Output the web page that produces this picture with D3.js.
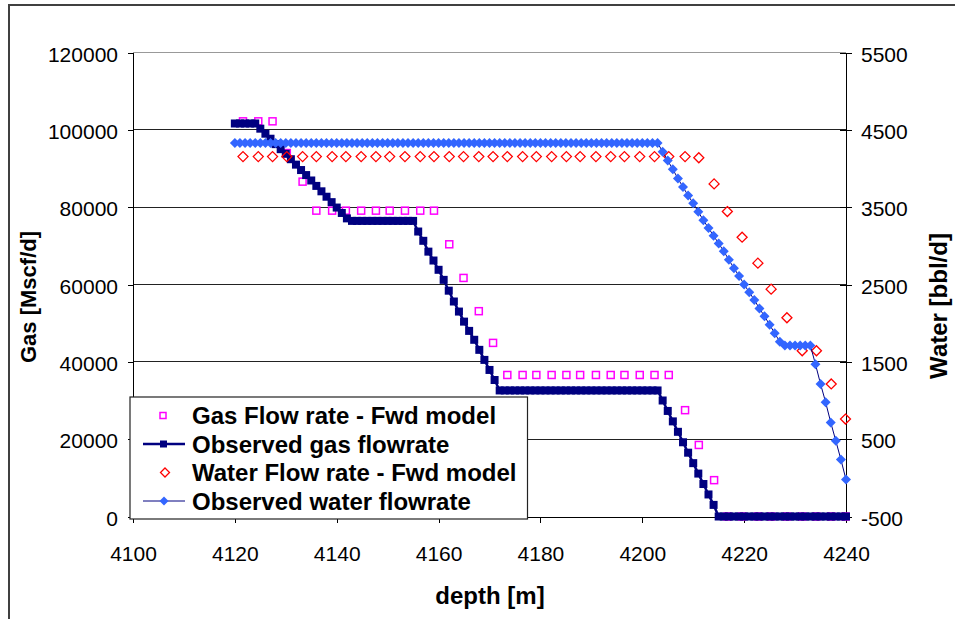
<!DOCTYPE html>
<html>
<head>
<meta charset="utf-8">
<script src="https://cdn.jsdelivr.net/npm/d3@7"></script>
<style>
    body { margin: 0; background: #fff; }
    svg { display: block; font-family: "Liberation Sans", Arial, sans-serif; }
</style>
</head>
<body>
<div id="chart"></div>
<script>
// axis ticks
const depthTicks = [4100, 4120, 4140, 4160, 4180, 4200, 4220, 4240]
const gasTicks = [0, 20000, 40000, 60000, 80000, 100000, 120000]
const waterTicks = [-500, 500, 1500, 2500, 3500, 4500, 5500]

// observed data, 1 m spacing
const obsDepth = [
    4120, 4121, 4122, 4123, 4124, 4125, 4126, 4127, 4128, 4129,
    4130, 4131, 4132, 4133, 4134, 4135, 4136, 4137, 4138, 4139,
    4140, 4141, 4142, 4143, 4144, 4145, 4146, 4147, 4148, 4149,
    4150, 4151, 4152, 4153, 4154, 4155, 4156, 4157, 4158, 4159,
    4160, 4161, 4162, 4163, 4164, 4165, 4166, 4167, 4168, 4169,
    4170, 4171, 4172, 4173, 4174, 4175, 4176, 4177, 4178, 4179,
    4180, 4181, 4182, 4183, 4184, 4185, 4186, 4187, 4188, 4189,
    4190, 4191, 4192, 4193, 4194, 4195, 4196, 4197, 4198, 4199,
    4200, 4201, 4202, 4203, 4204, 4205, 4206, 4207, 4208, 4209,
    4210, 4211, 4212, 4213, 4214, 4215, 4216, 4217, 4218, 4219,
    4220, 4221, 4222, 4223, 4224, 4225, 4226, 4227, 4228, 4229,
    4230, 4231, 4232, 4233, 4234, 4235, 4236, 4237, 4238, 4239,
    4240
]
const obsGas = [
    101640, 101640, 101640, 101640, 101640, 100300, 99000, 97700, 96300, 95000,
    93800, 92400, 91000, 89600, 88300, 86900, 85500, 84100, 82700, 81300,
    79900, 78500, 77100, 76450, 76450, 76450, 76450, 76450, 76450, 76450,
    76450, 76450, 76450, 76450, 76450, 76450, 73700, 71300, 68500, 66200,
    63800, 61200, 58400, 55600, 53000, 50400, 48000, 45700, 43100, 40500,
    37900, 35300, 32600, 32600, 32600, 32600, 32600, 32600, 32600, 32600,
    32600, 32600, 32600, 32600, 32600, 32600, 32600, 32600, 32600, 32600,
    32600, 32600, 32600, 32600, 32600, 32600, 32600, 32600, 32600, 32600,
    32600, 32600, 32600, 32600, 30000, 27300, 24600, 21900, 19200, 16500,
    13800, 11100, 8400, 5700, 3000, 0, 0, 0, 0, 0,
    0, 0, 0, 0, 0, 0, 0, 0, 0, 0,
    0, 0, 0, 0, 0, 0, 0, 0, 0, 0,
    0
]
const obsWater = [
    4330, 4330, 4330, 4330, 4330, 4330, 4330, 4330, 4330, 4330,
    4330, 4330, 4330, 4330, 4330, 4330, 4330, 4330, 4330, 4330,
    4330, 4330, 4330, 4330, 4330, 4330, 4330, 4330, 4330, 4330,
    4330, 4330, 4330, 4330, 4330, 4330, 4330, 4330, 4330, 4330,
    4330, 4330, 4330, 4330, 4330, 4330, 4330, 4330, 4330, 4330,
    4330, 4330, 4330, 4330, 4330, 4330, 4330, 4330, 4330, 4330,
    4330, 4330, 4330, 4330, 4330, 4330, 4330, 4330, 4330, 4330,
    4330, 4330, 4330, 4330, 4330, 4330, 4330, 4330, 4330, 4330,
    4330, 4330, 4330, 4330, 4218, 4102, 3990, 3870, 3760, 3650,
    3550, 3440, 3330, 3230, 3130, 3030, 2930, 2820, 2710, 2610,
    2500, 2400, 2300, 2190, 2090, 1980, 1870, 1760, 1712, 1712,
    1712, 1712, 1712, 1712, 1470, 1214, 977, 717, 478, 236,
    -23
]

// forward model
const modelDepth = [
    4121.6, 4124.6, 4127.4, 4130.2, 4133.3, 4136.0, 4139.1, 4141.8, 4144.8, 4147.7,
    4150.4, 4153.4, 4156.4, 4159.1, 4162.1, 4164.9, 4167.9, 4170.7, 4173.5, 4176.5,
    4179.2, 4182.2, 4185.1, 4187.8, 4190.9, 4193.8, 4196.5, 4199.5, 4202.4, 4205.2,
    4208.4, 4211.1, 4214.1, 4216.7, 4219.6, 4222.7, 4225.3, 4228.4, 4231.4, 4234.2,
    4237.1, 4239.9
]
const modelGas = [
    102200, 102200, 102200, 94000, 86600, 79100, 79100, 79100, 79100, 79100,
    79100, 79100, 79100, 79100, 70400, 61700, 53100, 44900, 36600, 36600,
    36600, 36600, 36600, 36600, 36600, 36600, 36600, 36600, 36600, 36600,
    27500, 18500, 9400, 0, 0, 0, 0, 0, 0, 0,
    0, 0
]
const modelWater = [
    4154, 4154, 4154, 4154, 4154, 4154, 4154, 4154, 4154, 4154,
    4154, 4154, 4154, 4154, 4154, 4154, 4154, 4154, 4154, 4154,
    4154, 4154, 4154, 4154, 4154, 4154, 4154, 4154, 4154, 4154,
    4154, 4139, 3801, 3443, 3112, 2776, 2440, 2070, 1643, 1643,
    1214, 760
]

const legendLabels = ["Gas Flow rate - Fwd model", "Observed gas flowrate",
    "Water Flow rate - Fwd model", "Observed water flowrate"]

const W = 955, H = 619
const plot = {left: 133, right: 846, top: 52.5, bottom: 516.5}

const svg = d3.select("#chart").append("svg")
    .attr("width", W)
    .attr("height", H)

// chart frame
svg.append("rect")
    .attr("x", 9).attr("y", 5)
    .attr("width", 1000).attr("height", 700)
    .attr("fill", "#fff")
    .attr("stroke", "#404040")
    .attr("stroke-width", 2)

const x = d3.scaleLinear().domain([4100, 4240]).range([plot.left, plot.right])
const yGas = d3.scaleLinear().domain([0, 120000]).range([plot.bottom, plot.top])
const yWater = d3.scaleLinear().domain([-500, 5500]).range([plot.bottom, plot.top])

// gridlines
svg.append("g").selectAll("line")
    .data(gasTicks.filter(d => d > 0))
    .join("line")
    .attr("x1", plot.left).attr("x2", plot.right)
    .attr("y1", d => yGas(d)).attr("y2", d => yGas(d))
    .attr("stroke", d => d === 120000 ? "#999" : "#222")
    .attr("stroke-width", 1)
    .attr("shape-rendering", "crispEdges")

// axes (plain hyphen for negatives, like the original)
const fmt = d => String(d)
const leftAxis = svg.append("g")
    .attr("transform", `translate(${plot.left},0)`)
    .call(d3.axisLeft(yGas).tickValues(gasTicks).tickSize(5).tickSizeOuter(0).tickPadding(10).tickFormat(fmt))
const rightAxis = svg.append("g")
    .attr("transform", `translate(${plot.right},0)`)
    .call(d3.axisRight(yWater).tickValues(waterTicks).tickSize(6).tickSizeOuter(0).tickPadding(9).tickFormat(fmt))
rightAxis.selectAll(".tick line").attr("x1", -6)
const bottomAxis = svg.append("g")
    .attr("transform", `translate(0,${plot.bottom})`)
    .call(d3.axisBottom(x).tickValues(depthTicks).tickSize(6).tickSizeOuter(0).tickPadding(24).tickFormat(fmt))

;[leftAxis, rightAxis, bottomAxis].forEach(a => {
    a.selectAll("path, line").attr("stroke", "#000").attr("shape-rendering", "crispEdges")
    a.selectAll("text").attr("fill", "#000").style("font-size", "21px")
        .style("font-family", '"Liberation Sans", Arial, sans-serif')
})
leftAxis.selectAll("text").attr("dy", "0.42em")
rightAxis.selectAll("text").attr("dy", "0.42em")

// axis titles
svg.append("text")
    .attr("transform", `translate(36,297) rotate(-90)`)
    .attr("text-anchor", "middle")
    .style("font-size", "22px").style("font-weight", "bold")
    .text("Gas [Mscf/d]")
svg.append("text")
    .attr("transform", `translate(947,306) rotate(-90)`)
    .attr("text-anchor", "middle")
    .style("font-size", "24px").style("font-weight", "bold")
    .text("Water [bbl/d]")
svg.append("text")
    .attr("x", 490).attr("y", 604)
    .attr("text-anchor", "middle")
    .style("font-size", "24px").style("font-weight", "bold")
    .text("depth [m]")

const diamond = r => `M0,${-r}L${r},0L0,${r}L${-r},0Z`

// series 1: gas model (open magenta squares)
const gasModelData = modelDepth.map((d, i) => [d, modelGas[i]])
svg.append("g").selectAll("rect")
    .data(gasModelData)
    .join("rect")
    .attr("x", d => x(d[0]) - 3.5).attr("y", d => yGas(d[1]) - 3.5)
    .attr("width", 7).attr("height", 7)
    .attr("fill", "none").attr("stroke", "#ff00ff").attr("stroke-width", 1.5)

// series 2: observed gas (navy line + squares)
const obsGasData = obsDepth.map((d, i) => [d, obsGas[i]])
svg.append("path")
    .datum(obsGasData)
    .attr("d", d3.line().x(d => x(d[0])).y(d => yGas(d[1])))
    .attr("fill", "none").attr("stroke", "#000080").attr("stroke-width", 2.5)
svg.append("g").selectAll("rect")
    .data(obsGasData)
    .join("rect")
    .attr("x", d => x(d[0]) - 4).attr("y", d => yGas(d[1]) - 4)
    .attr("width", 8).attr("height", 8)
    .attr("fill", "#000080")

// series 3: water model (open red diamonds)
const waterModelData = modelDepth.map((d, i) => [d, modelWater[i]])
svg.append("g").selectAll("path")
    .data(waterModelData)
    .join("path")
    .attr("transform", d => `translate(${x(d[0])},${yWater(d[1])})`)
    .attr("d", diamond(5))
    .attr("fill", "none").attr("stroke", "#ff0000").attr("stroke-width", 1.3)

// series 4: observed water (blue line + diamonds)
const obsWaterData = obsDepth.map((d, i) => [d, obsWater[i]])
svg.append("path")
    .datum(obsWaterData)
    .attr("d", d3.line().x(d => x(d[0])).y(d => yWater(d[1])))
    .attr("fill", "none").attr("stroke", "#000080").attr("stroke-width", 1)
svg.append("g").selectAll("path")
    .data(obsWaterData)
    .join("path")
    .attr("transform", d => `translate(${x(d[0])},${yWater(d[1])})`)
    .attr("d", diamond(5))
    .attr("fill", "#3366ff")

// legend
const legend = svg.append("g")
legend.append("rect")
    .attr("x", 130).attr("y", 397)
    .attr("width", 397.5).attr("height", 122)
    .attr("fill", "#fff").attr("stroke", "#222").attr("stroke-width", 1.2)
const rowY = [415.5, 444, 472.5, 501]
legend.append("rect")
    .attr("x", 160).attr("y", rowY[0] - 3).attr("width", 6).attr("height", 6)
    .attr("fill", "none").attr("stroke", "#ff00ff").attr("stroke-width", 1.5)
legend.append("line")
    .attr("x1", 143).attr("x2", 185).attr("y1", rowY[1]).attr("y2", rowY[1])
    .attr("stroke", "#000080").attr("stroke-width", 2.5)
legend.append("rect")
    .attr("x", 160).attr("y", rowY[1] - 3.5).attr("width", 7).attr("height", 7)
    .attr("fill", "#000080")
legend.append("path")
    .attr("transform", `translate(165,${rowY[2]})`)
    .attr("d", diamond(4.5))
    .attr("fill", "none").attr("stroke", "#ff0000").attr("stroke-width", 1.3)
legend.append("line")
    .attr("x1", 143).attr("x2", 185).attr("y1", rowY[3]).attr("y2", rowY[3])
    .attr("stroke", "#000080").attr("stroke-width", 1)
legend.append("path")
    .attr("transform", `translate(164,${rowY[3]})`)
    .attr("d", diamond(4.5))
    .attr("fill", "#3366ff")
legend.selectAll("text.lbl")
    .data(legendLabels)
    .join("text")
    .attr("class", "lbl")
    .attr("x", 192).attr("y", (d, i) => rowY[i] + 8.5)
    .style("font-size", "24px").style("font-weight", "bold")
    .text(d => d)
</script>
</body>
</html>
